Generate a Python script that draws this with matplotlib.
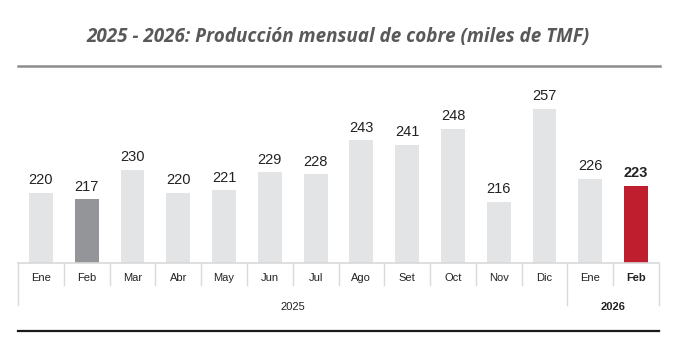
import matplotlib
matplotlib.use("Agg")
import matplotlib.pyplot as plt
from matplotlib.lines import Line2D

months = ["Ene", "Feb", "Mar", "Abr", "May", "Jun", "Jul", "Ago", "Set", "Oct", "Nov", "Dic", "Ene", "Feb"]
values = [220, 217, 230, 220, 221, 229, 228, 243, 241, 248, 216, 257, 226, 223]
years = ["2025", "2026"]
year_counts = [12, 2]
title = "2025 - 2026: Producción mensual de cobre (miles de TMF)"

light = "#e3e4e6"
colors = [light] * len(values)
colors[1] = "#939598"
colors[-1] = "#be1e2d"

W, H = 680, 354
fig = plt.figure(figsize=(W / 100, H / 100), dpi=100)
x0, x1 = 18, 659
ybase, ytop = 263, 80
ax = fig.add_axes([x0 / W, 1 - ybase / H, (x1 - x0) / W, (ybase - ytop) / H])

xs = list(range(len(values)))
ax.bar(xs, values, width=0.52, color=colors, zorder=2)
ax.set_xlim(-0.5, len(values) - 0.5)
ax.set_ylim(189, 269.6)
for s in ax.spines.values():
    s.set_visible(False)
ax.set_xticks([])
ax.set_yticks([])

# value labels
for i, v in enumerate(values):
    bold = (i == len(values) - 1)
    ax.annotate(str(v), (i, v), xytext=(0, 4), textcoords="offset points",
                ha="center", va="bottom", fontsize=10.5,
                fontfamily="Liberation Sans", color="#222222",
                fontweight="bold" if bold else "normal")

tr = ax.get_xaxis_transform()
axh = ybase - ytop
def fy(py):
    return (ybase - py) / axh

line_c = "#d9d9d9"
# baseline
ax.add_line(Line2D([-0.5, len(values) - 0.5], [0, 0], transform=tr, color=line_c, lw=1.2, clip_on=False))
# separators
bounds_long = {-0.5}
acc = -0.5
for c in year_counts:
    acc += c
    bounds_long.add(acc)
for b in range(len(values) + 1):
    xb = b - 0.5
    ylow = fy(305) if xb in bounds_long else fy(285)
    ax.add_line(Line2D([xb, xb], [0, ylow], transform=tr, color=line_c, lw=1.0, clip_on=False))

# month labels
for i, m in enumerate(months):
    bold = (i == len(values) - 1)
    ax.text(i, fy(278), m, transform=tr, ha="center", va="center", fontsize=8,
            fontfamily="Liberation Sans", color="#222222",
            fontweight="bold" if bold else "normal")

# year labels
start = -0.5
for j, (yl, c) in enumerate(zip(years, year_counts)):
    ax.text(start + c / 2, fy(307), yl, transform=tr, ha="center", va="center", fontsize=8,
            fontfamily="Liberation Sans", color="#222222",
            fontweight="bold" if j == len(years) - 1 else "normal")
    start += c

# bottom rule
ax.add_line(Line2D([-0.5, len(values) - 0.5], [fy(331), fy(331)], transform=tr, color="#1a1a1a", lw=1.6, clip_on=False))

# title + top rule
fig.text(338 / W, 1 - 37 / H, title, ha="center", va="center", fontsize=13.6,
         fontfamily="Open Sans", fontweight="bold", fontstyle="italic", color="#595959")
fig.add_artist(Line2D([18 / W, 660 / W], [1 - 66 / H, 1 - 66 / H], transform=fig.transFigure,
                      color="#8c8c8c", lw=1.8))

fig.savefig("out.png", dpi=100)
